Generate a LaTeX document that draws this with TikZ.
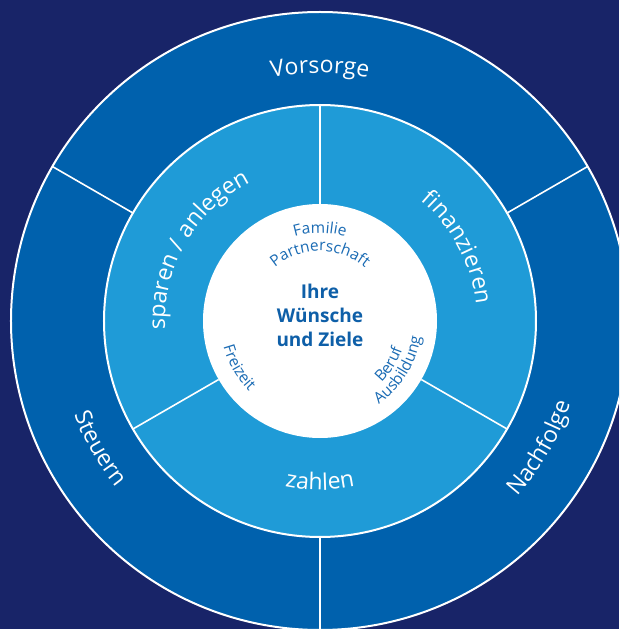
\documentclass[tikz,border=0pt]{standalone}
\usepackage{fontspec}
\setmainfont{Open Sans}
\usetikzlibrary{decorations.text}

\definecolor{navy}{HTML}{182468}
\definecolor{ringdark}{HTML}{0061AD}
\definecolor{ringlight}{HTML}{1F9BD7}
\definecolor{goalblue}{HTML}{0E5FA8}
\definecolor{lblblue}{HTML}{1A6BB4}

\def\rout{309pt}
\def\rmid{216pt}
\def\rin{117pt}

\begin{document}
\begin{tikzpicture}[
    sep/.style={draw=white, line width=1.6pt},
    rim/.style={draw=white, line width=2pt},
    arclabel/.style n args={3}{decorate, decoration={text along path,
      text align=center, text color=#1, text={|\fontsize{#2}{#2}\selectfont|#3}}}]

  \useasboundingbox (-320pt,-308pt) rectangle (299pt,321pt);
  \clip (-320pt,-308pt) rectangle (299pt,321pt);
  \fill[navy] (-320pt,-308pt) rectangle (299pt,321pt);

  % rings, outside in
  \draw[rim, fill=ringdark] (0,0) circle[radius=\rout];
  \draw[rim, fill=ringlight] (0,0) circle[radius=\rmid];
  \fill[white] (0,0) circle[radius=\rin];

  \foreach \a in {30,150,270}
    \draw[sep] (\a:\rmid) -- (\a:\rout);
  \foreach \a in {90,210,330}
    \draw[sep] (\a:\rin) -- (\a:\rmid);

  % outer ring
  \path[arclabel={white}{23}{Vorsorge}] (130:248pt) arc[start angle=130, end angle=50, radius=248pt];
  \path[arclabel={white}{23}{Steuern}] (180:263pt) arc[start angle=180, end angle=240, radius=263pt];
  \path[arclabel={white}{23}{Nachfolge}] (300:264pt) arc[start angle=300, end angle=360, radius=264pt];

  % inner ring
  \path[arclabel={white}{23}{sparen / anlegen}] (205:155pt) arc[start angle=205, end angle=95, radius=155pt];
  \path[arclabel={white}{23}{finanzieren}] (83:157pt) arc[start angle=83, end angle=-27, radius=157pt];
  \path[arclabel={white}{23}{zahlen}] (240:169pt) arc[start angle=240, end angle=300, radius=169pt];

  % centre
  \node[align=center, text=goalblue, font=\fontsize{19}{24}\selectfont\bfseries] (ziele) at (0,6pt)
    {Ihre\\Wünsche\\und Ziele};
  \path[arclabel={lblblue}{15.5}{Familie}] (125:88pt) arc[start angle=125, end angle=55, radius=88pt];
  \path[arclabel={lblblue}{15.5}{Partnerschaft}] (150:70pt) arc[start angle=150, end angle=30, radius=70pt];
  \path[arclabel={lblblue}{15.5}{Freizeit}] (170:100pt) arc[start angle=170, end angle=250, radius=100pt];
  \path[arclabel={lblblue}{15.5}{Beruf}] (288:87pt) arc[start angle=288, end angle=368, radius=87pt];
  \path[arclabel={lblblue}{15.5}{Ausbildung}] (278:102pt) arc[start angle=278, end angle=378, radius=102pt];
\end{tikzpicture}
\end{document}
